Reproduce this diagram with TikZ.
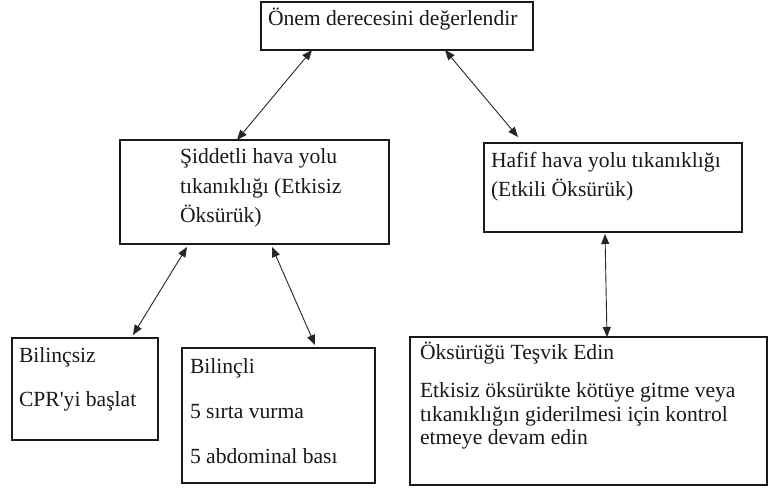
\documentclass[tikz,border=0pt]{standalone}
\usepackage{fontspec}
\setmainfont{Liberation Serif}[Ligatures=TeXOff]
\usetikzlibrary{arrows.meta}
\begin{document}
\begin{tikzpicture}[x=1pt,y=-1pt,
  box/.style={draw=black!90, line width=1.2pt, inner sep=0pt, outer sep=0pt, anchor=north west},
  txt/.style={inner sep=0pt, outer sep=0pt, anchor=base west, font=\fontsize{21.6}{29}\selectfont, text=black!90},
  arr/.style={draw=black!85, line width=0.9pt, {Triangle[length=10pt,width=8pt]}-{Triangle[length=10pt,width=8pt]}}]
\useasboundingbox (0,0) rectangle (768,492);
\fill[white] (0,0) rectangle (768,492);
% boxes
\node[box, minimum width=272pt, minimum height=48pt] (top) at (261,2) {};
\node[box, minimum width=269pt, minimum height=104pt] (sev) at (120,140) {};
\node[box, minimum width=258pt, minimum height=89pt] (mild) at (484,143) {};
\node[box, minimum width=146pt, minimum height=102pt] (unc) at (12,338) {};
\node[box, minimum width=193pt, minimum height=135pt] (con) at (182,348) {};
\node[box, minimum width=357pt, minimum height=148pt] (enc) at (410,337) {};
% texts
\node[txt] (t1) at (268,26) {Önem derecesini değerlendir};
\node[txt] (s1) at (180,164) {Şiddetli hava yolu};
\node[txt] (s2) at (180,193) {tıkanıklığı (Etkisiz};
\node[txt] (s3) at (180,222) {Öksürük)};
\node[txt] (m1) at (491,167) {Hafif hava yolu tıkanıklığı};
\node[txt] (m2) at (491,196) {(Etkili Öksürük)};
\node[txt] (u1) at (19,362) {Bilinçsiz};
\node[txt] (u2) at (19,406) {CPR'yi başlat};
\node[txt] (c1) at (190,373) {Bilinçli};
\node[txt] (c2) at (190,418) {5 sırta vurma};
\node[txt] (c3) at (190,463) {5 abdominal bası};
\node[txt] (e1) at (420,359) {Öksürüğü Teşvik Edin};
\node[txt] (e2) at (420,397) {Etkisiz öksürükte kötüye gitme veya};
\node[txt] (e3) at (420,421) {tıkanıklığın giderilmesi için kontrol};
\node[txt] (e4) at (420,444) {etmeye devam edin};
% connectors
\draw[arr] ([xshift=51pt]top.south west) -- ([xshift=117pt]sev.north west);
\draw[arr] ([xshift=184pt]top.south west) -- ([xshift=34pt,yshift=6pt]mild.north west);
\draw[arr] ([xshift=67pt,yshift=-3pt]sev.south west) -- ([xshift=121pt,yshift=3pt]unc.north west);
\draw[arr] ([xshift=152pt,yshift=-3pt]sev.south west) -- ([xshift=133pt,yshift=3pt]con.north west);
\draw[arr] ([xshift=121pt,yshift=-2pt]mild.south west) -- ([xshift=197pt]enc.north west);
\end{tikzpicture}
\end{document}
